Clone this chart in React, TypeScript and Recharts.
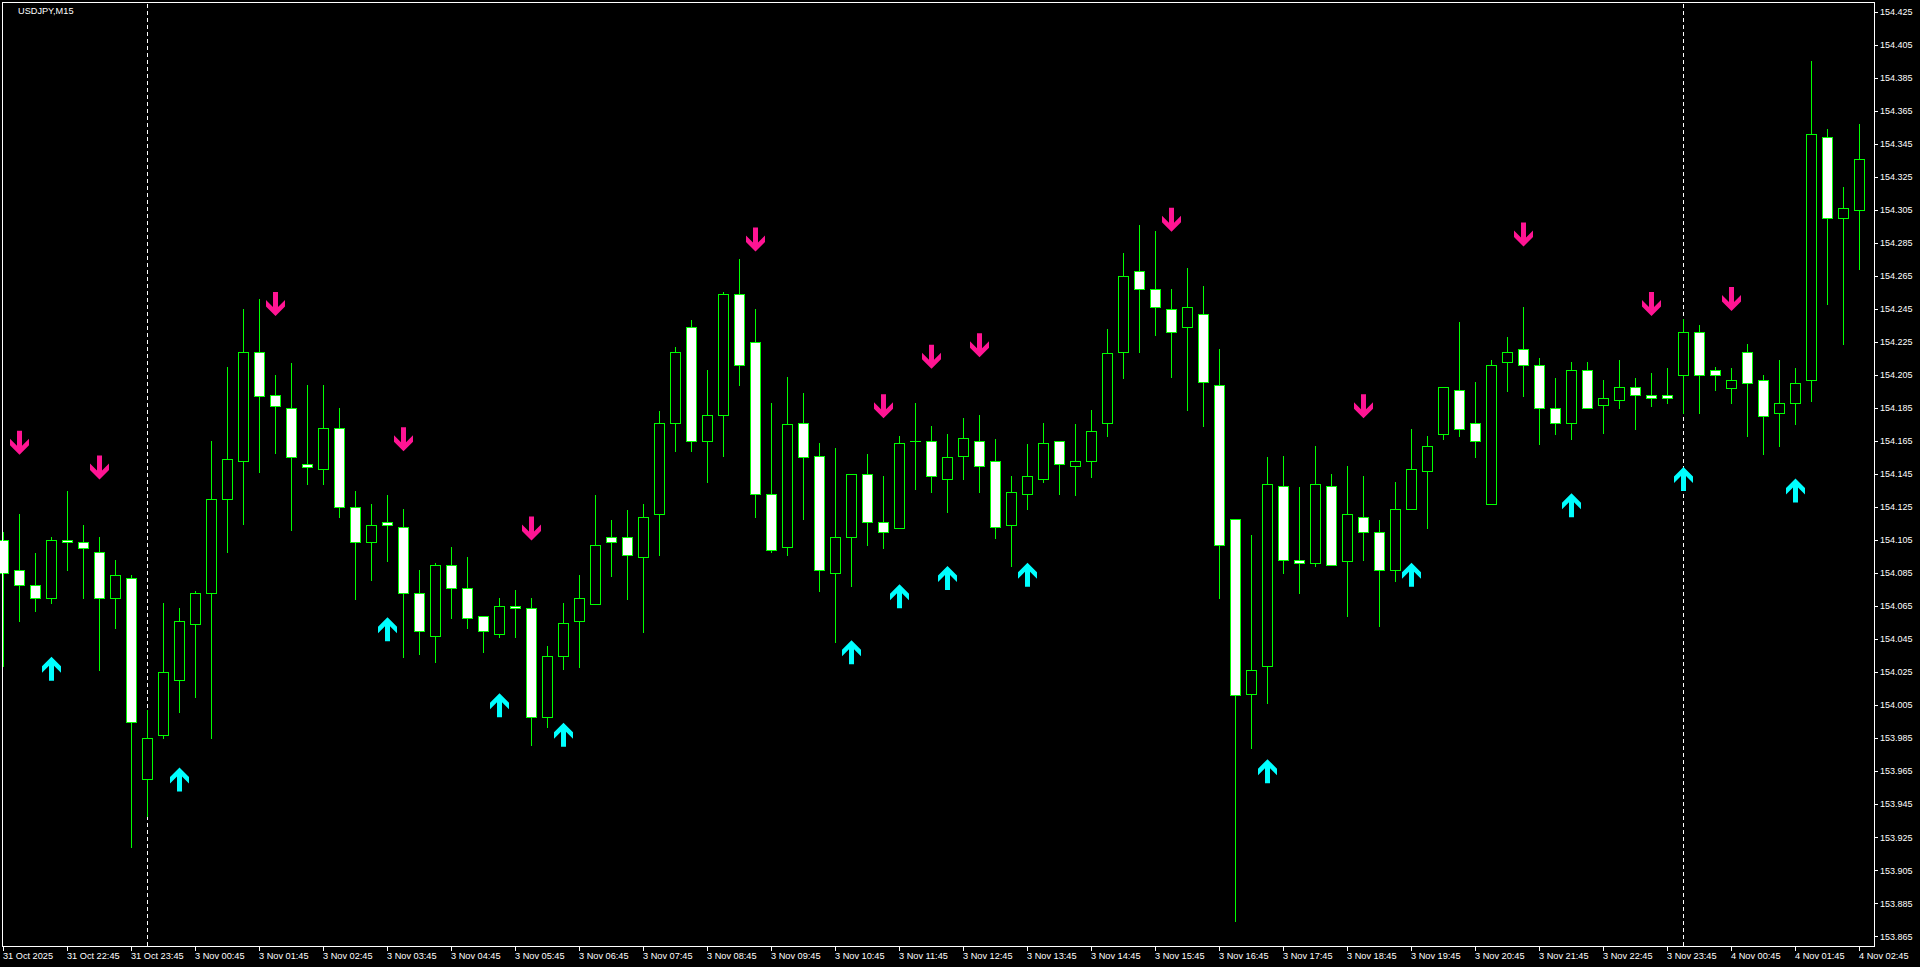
import React from 'react';
import { ComposedChart, Bar, Line, XAxis, YAxis, ReferenceLine } from 'recharts';

// USDJPY M15, 31 Oct 21:45 -> 4 Nov 02:45 (117 bars)
const opens = [
  154.105, 154.087, 154.078, 154.070, 154.105, 154.104, 154.098, 154.070, 154.082, 153.960,
  153.987, 154.020, 154.054, 154.073, 154.130, 154.153, 154.219, 154.193, 154.185, 154.151,
  154.148, 154.173, 154.125, 154.104, 154.116, 154.113, 154.073, 154.047, 154.090, 154.076,
  154.059, 154.048, 154.065, 154.064, 153.998, 154.035, 154.056, 154.066, 154.107, 154.107,
  154.095, 154.121, 154.176, 154.234, 154.165, 154.181, 154.254, 154.225, 154.133, 154.101,
  154.176, 154.156, 154.085, 154.107, 154.145, 154.116, 154.112, 154.165, 154.165, 154.142,
  154.156, 154.165, 154.153, 154.114, 154.133, 154.142, 154.165, 154.150, 154.153, 154.176,
  154.219, 154.268, 154.257, 154.245, 154.234, 154.242, 154.199, 154.118, 154.012, 154.029,
  154.138, 154.093, 154.091, 154.138, 154.092, 154.119, 154.110, 154.087, 154.124, 154.147,
  154.169, 154.196, 154.176, 154.127, 154.213, 154.221, 154.211, 154.185, 154.176, 154.208,
  154.187, 154.190, 154.198, 154.193, 154.193, 154.205, 154.231, 154.208, 154.197, 154.219,
  154.202, 154.182, 154.188, 154.202, 154.349, 154.300, 154.305,
];

const highs = [
  154.110, 154.121, 154.097, 154.107, 154.135, 154.114, 154.107, 154.093, 154.084, 154.002,
  154.067, 154.064, 154.074, 154.165, 154.210, 154.245, 154.251, 154.205, 154.212, 154.199,
  154.199, 154.185, 154.135, 154.127, 154.132, 154.124, 154.087, 154.091, 154.101, 154.095,
  154.059, 154.070, 154.075, 154.070, 154.041, 154.067, 154.084, 154.132, 154.117, 154.123,
  154.127, 154.183, 154.222, 154.238, 154.208, 154.255, 154.275, 154.245, 154.188, 154.204,
  154.194, 154.164, 154.161, 154.145, 154.157, 154.144, 154.168, 154.188, 154.174, 154.169,
  154.179, 154.181, 154.166, 154.144, 154.163, 154.176, 154.165, 154.175, 154.184, 154.233,
  154.279, 154.296, 154.292, 154.257, 154.270, 154.259, 154.221, 154.118, 154.108, 154.155,
  154.156, 154.137, 154.162, 154.145, 154.150, 154.144, 154.117, 154.140, 154.172, 154.168,
  154.198, 154.237, 154.201, 154.214, 154.228, 154.246, 154.215, 154.203, 154.213, 154.213,
  154.202, 154.214, 154.203, 154.206, 154.209, 154.239, 154.235, 154.210, 154.209, 154.224,
  154.205, 154.214, 154.209, 154.395, 154.354, 154.319, 154.357,
];

const lows = [
  154.029, 154.056, 154.062, 154.067, 154.087, 154.070, 154.026, 154.052, 153.919, 153.938,
  153.985, 154.001, 154.010, 153.985, 154.098, 154.115, 154.146, 154.158, 154.111, 154.139,
  154.139, 154.119, 154.069, 154.081, 154.092, 154.034, 154.036, 154.031, 154.058, 154.052,
  154.037, 154.046, 154.046, 153.981, 153.992, 154.027, 154.028, 154.066, 154.083, 154.069,
  154.049, 154.096, 154.159, 154.159, 154.140, 154.156, 154.199, 154.119, 154.098, 154.096,
  154.118, 154.074, 154.043, 154.077, 154.102, 154.100, 154.112, 154.136, 154.134, 154.122,
  154.142, 154.134, 154.106, 154.089, 154.124, 154.140, 154.133, 154.132, 154.143, 154.168,
  154.203, 154.219, 154.229, 154.204, 154.184, 154.174, 154.070, 153.874, 153.979, 154.006,
  154.085, 154.073, 154.089, 154.090, 154.059, 154.093, 154.053, 154.080, 154.124, 154.112,
  154.166, 154.168, 154.155, 154.127, 154.195, 154.192, 154.163, 154.169, 154.166, 154.185,
  154.170, 154.185, 154.172, 154.186, 154.188, 154.182, 154.182, 154.196, 154.188, 154.168,
  154.157, 154.162, 154.175, 154.189, 154.248, 154.224, 154.269,
];

const closes = [
  154.085, 154.078, 154.070, 154.105, 154.104, 154.100, 154.070, 154.084, 153.995, 153.985,
  154.025, 154.056, 154.073, 154.130, 154.154, 154.219, 154.192, 154.186, 154.155, 154.149,
  154.173, 154.125, 154.104, 154.114, 154.114, 154.073, 154.050, 154.090, 154.076, 154.058,
  154.050, 154.065, 154.064, 153.998, 154.035, 154.055, 154.070, 154.102, 154.104, 154.096,
  154.119, 154.176, 154.219, 154.165, 154.181, 154.254, 154.211, 154.133, 154.099, 154.175,
  154.155, 154.087, 154.107, 154.145, 154.116, 154.110, 154.164, 154.165, 154.144, 154.155,
  154.167, 154.150, 154.113, 154.134, 154.144, 154.164, 154.151, 154.153, 154.171, 154.218,
  154.265, 154.257, 154.246, 154.231, 154.246, 154.201, 154.102, 154.011, 154.026, 154.139,
  154.093, 154.091, 154.139, 154.090, 154.121, 154.110, 154.087, 154.124, 154.148, 154.162,
  154.198, 154.172, 154.165, 154.211, 154.219, 154.211, 154.185, 154.176, 154.208, 154.185,
  154.191, 154.198, 154.193, 154.191, 154.191, 154.231, 154.205, 154.205, 154.202, 154.200,
  154.180, 154.188, 154.200, 154.351, 154.300, 154.306, 154.336,
];

// [bar index, price] of the indicator arrows
const upSignals: [number, number][] = [
  [3, 154.027], [11, 153.960], [24, 154.051], [31, 154.005], [35, 153.987],
  [53, 154.037], [56, 154.071], [59, 154.082], [64, 154.084], [79, 153.965],
  [88, 154.084], [98, 154.126], [105, 154.142], [112, 154.135],
];
const downSignals: [number, number][] = [
  [1, 154.164], [6, 154.149], [17, 154.248], [25, 154.166], [33, 154.112],
  [47, 154.287], [55, 154.186], [58, 154.216], [61, 154.223], [73, 154.299],
  [85, 154.186], [95, 154.290], [103, 154.248], [108, 154.251],
];

const xTickLabels = [
  '31 Oct 2025', '31 Oct 22:45', '31 Oct 23:45',
  '3 Nov 00:45', '3 Nov 01:45', '3 Nov 02:45', '3 Nov 03:45', '3 Nov 04:45', '3 Nov 05:45',
  '3 Nov 06:45', '3 Nov 07:45', '3 Nov 08:45', '3 Nov 09:45', '3 Nov 10:45', '3 Nov 11:45',
  '3 Nov 12:45', '3 Nov 13:45', '3 Nov 14:45', '3 Nov 15:45', '3 Nov 16:45', '3 Nov 17:45',
  '3 Nov 18:45', '3 Nov 19:45', '3 Nov 20:45', '3 Nov 21:45', '3 Nov 22:45', '3 Nov 23:45',
  '4 Nov 00:45', '4 Nov 01:45', '4 Nov 02:45',
];

const yTicks = [
  154.425, 154.405, 154.385, 154.365, 154.345, 154.325, 154.305, 154.285, 154.265, 154.245,
  154.225, 154.205, 154.185, 154.165, 154.145, 154.125, 154.105, 154.085, 154.065, 154.045,
  154.025, 154.005, 153.985, 153.965, 153.945, 153.925, 153.905, 153.885, 153.865,
];

const daySeparators = ['3 Nov 00:00', '4 Nov 00:00'];

const pad = (n: number) => String(n).padStart(2, '0');
const barTime = (i: number) => {
  const m = 21 * 60 + 45 + i * 15;
  if (m < 1440) return `31 Oct ${pad(Math.floor(m / 60))}:${pad(m % 60)}`;
  const r = m - 1440;
  const day = r < 1440 ? 3 : 4;
  const mm = r % 1440;
  return `${day} Nov ${pad(Math.floor(mm / 60))}:${pad(mm % 60)}`;
};

const times = opens.map((_, i) => barTime(i));
const upMap = new Map(upSignals);
const downMap = new Map(downSignals);

const rows = times.map((t, i) => ({
  t,
  open: opens[i],
  high: highs[i],
  low: lows[i],
  close: closes[i],
  up: upMap.get(i) ?? null,
  down: downMap.get(i) ?? null,
}));

const xTicks = times.filter((_, i) => i % 4 === 0);

const GREEN = '#00ff00';
const FONT = '"Liberation Sans", Arial, sans-serif';

const Candle = (props: any) => {
  const { x, y, width, height, payload } = props;
  if (x == null || y == null || !payload) return <g />;
  const top = Math.min(y, y + height);
  const h = Math.abs(height);
  const span = payload.high - payload.low || 1;
  const py = (p: number) => top + ((payload.high - p) / span) * h;
  const col = Math.floor(x + width / 2);
  const cx = col + 0.5;
  const bull = payload.close >= payload.open;
  const yo = Math.round(py(payload.open));
  const yc = Math.round(py(payload.close));
  const bt = Math.min(yo, yc);
  const bb = Math.max(yo, yc);
  return (
    <g>
      <line x1={cx} x2={cx} y1={Math.round(top)} y2={Math.round(top + h) + 1} stroke={GREEN} strokeWidth={1} />
      {bb - bt < 1 ? (
        <line x1={col - 5} x2={col + 6} y1={bt + 0.5} y2={bt + 0.5} stroke={GREEN} strokeWidth={1} />
      ) : (
        <rect x={cx - 5} y={bt + 0.5} width={10} height={bb - bt} fill={bull ? '#000' : '#fff'} stroke={GREEN} strokeWidth={1} />
      )}
    </g>
  );
};

const upPts = [[0, -12], [9.5, -2.5], [9.5, 4], [2.5, -3], [2.5, 12], [-2.5, 12], [-2.5, -3], [-9.5, 4], [-9.5, -2.5]];

const makeArrow = (key: 'up' | 'down', color: string, dir: number) => (props: any) => {
  const { cx, cy, payload, index } = props;
  if (!payload || payload[key] == null || cx == null || cy == null) return <g key={`${key}-${index}`} />;
  const ox = Math.floor(cx) + 0.5;
  const pts = upPts.map(([a, b]) => `${ox + a},${cy + b * dir}`).join(' ');
  return <polygon key={`${key}-${index}`} points={pts} fill={color} />;
};

const XTick = (props: any) => {
  const { x, y, payload } = props;
  const idx = times.indexOf(payload.value);
  const label = xTickLabels[Math.round(idx / 4)];
  const col = Math.floor(x);
  return (
    <g>
      <line x1={col + 0.5} x2={col + 0.5} y1={y} y2={y + 5} stroke="#fff" strokeWidth={1} />
      <text x={col} y={y + 13} fill="#fff" fontSize={9.2} fontFamily={FONT}>{label}</text>
    </g>
  );
};

const YTick = (props: any) => {
  const { x, y, payload } = props;
  const ry = Math.round(y) + 0.5;
  return (
    <g>
      <line x1={x} x2={x + 4} y1={ry} y2={ry} stroke="#fff" strokeWidth={1} />
      <text x={x + 6} y={y + 3.3} fill="#fff" fontSize={9} fontFamily={FONT}>{Number(payload.value).toFixed(3)}</text>
    </g>
  );
};

const Separator = (props: any) => {
  const x = Math.floor(props.x1) + 0.5;
  return <line x1={x} x2={x} y1={props.y1} y2={props.y2} stroke="#fff" strokeWidth={1} strokeDasharray="4 3" />;
};

export default function App() {
  const sepProps: any = { zIndex: 100 };
  return (
    <div style={{ position: 'absolute', left: 0, top: 0, width: 1920, height: 967, background: '#000', overflow: 'hidden' }}>
      <ComposedChart
        width={1920}
        height={967}
        data={rows}
        margin={{ top: 2, right: 0, bottom: 0, left: 2 }}
        barCategoryGap={0}
      >
        <XAxis
          dataKey="t"
          type="category"
          ticks={xTicks}
          interval={0}
          height={21}
          padding={{ left: -6.7, right: 6.7 }}
          axisLine={false}
          tickLine={false}
          tickSize={0}
          tickMargin={0}
          tick={<XTick />}
        />
        <YAxis
          orientation="right"
          type="number"
          domain={[153.8591, 154.4309]}
          allowDataOverflow
          ticks={yTicks}
          interval={0}
          width={46}
          axisLine={false}
          tickLine={false}
          tickSize={0}
          tickMargin={0}
          tick={<YTick />}
        />
        {daySeparators.map((d) => (
          <ReferenceLine key={d} x={d} stroke="#fff" shape={<Separator />} {...sepProps} />
        ))}
        <Bar dataKey={(d: any) => [d.low, d.high]} shape={<Candle />} isAnimationActive={false} />
        <Line dataKey="up" stroke="none" dot={makeArrow('up', '#00ffff', 1)} activeDot={false} isAnimationActive={false} />
        <Line dataKey="down" stroke="none" dot={makeArrow('down', '#ff1493', -1)} activeDot={false} isAnimationActive={false} />
      </ComposedChart>
      <div
        style={{
          position: 'absolute', left: 2, top: 2, width: 1873, height: 945,
          border: '1px solid #fff', boxSizing: 'border-box', pointerEvents: 'none',
        }}
      />
      <div
        style={{
          position: 'absolute', left: 18, top: 6, color: '#fff', fontFamily: FONT,
          fontSize: 9.2, lineHeight: '10px', whiteSpace: 'nowrap',
        }}
      >
        USDJPY,M15
      </div>
    </div>
  );
}
